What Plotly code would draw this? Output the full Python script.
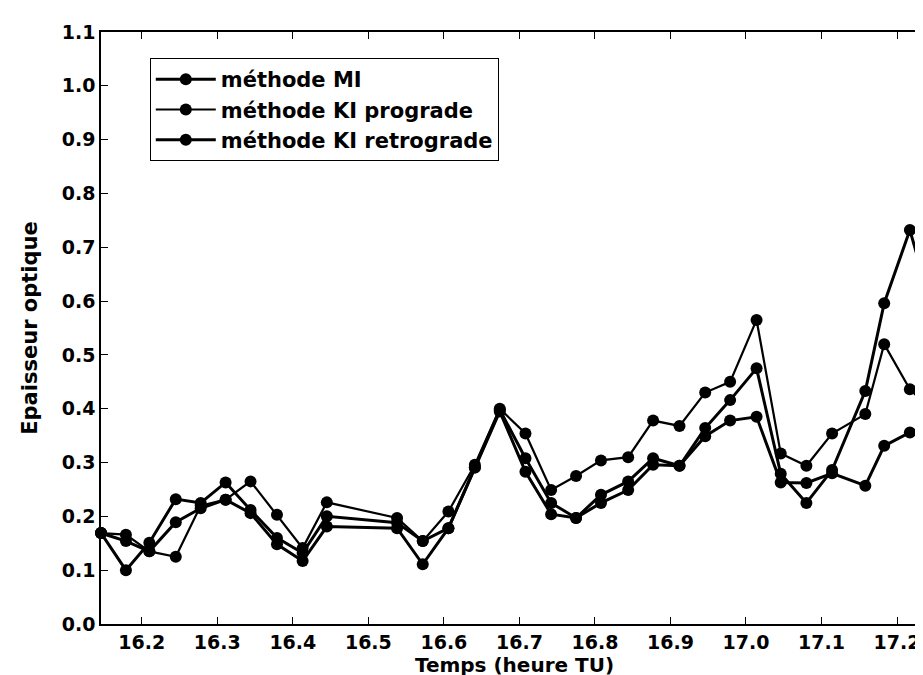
import plotly.graph_objects as go

# Time (hours UT)
temps = [16.146, 16.179, 16.210, 16.245, 16.278, 16.311, 16.344, 16.379, 16.413, 16.445,
         16.538, 16.572, 16.606, 16.641, 16.674, 16.708, 16.742, 16.775, 16.808, 16.844,
         16.877, 16.912, 16.946, 16.979, 17.014, 17.046, 17.080, 17.114, 17.158, 17.183,
         17.217, 17.250]

methode_mi = [0.169, 0.100, 0.151, 0.232, 0.225, 0.263, 0.212, 0.160, 0.132, 0.200,
              0.188, 0.154, 0.178, 0.291, 0.398, 0.308, 0.225, 0.197, 0.240, 0.265,
              0.308, 0.294, 0.364, 0.416, 0.475, 0.279, 0.225, 0.286, 0.433, 0.596,
              0.732, 0.570]

methode_ki_prograde = [0.169, 0.166, 0.135, 0.125, 0.220, 0.231, 0.265, 0.203, 0.141, 0.226,
                       0.197, 0.154, 0.209, 0.296, 0.400, 0.354, 0.249, 0.275, 0.304, 0.310,
                       0.378, 0.368, 0.430, 0.450, 0.565, 0.317, 0.294, 0.354, 0.390, 0.520,
                       0.436, 0.392]

methode_ki_retrograde = [0.169, 0.154, 0.135, 0.189, 0.215, 0.231, 0.206, 0.148, 0.117, 0.181,
                         0.178, 0.111, 0.178, 0.291, 0.395, 0.283, 0.204, 0.197, 0.225, 0.249,
                         0.296, 0.294, 0.349, 0.378, 0.385, 0.263, 0.262, 0.280, 0.257, 0.331,
                         0.356, 0.338]

series_names = ["méthode MI", "méthode KI prograde", "méthode KI retrograde"]
x_ticks = [16.2, 16.3, 16.4, 16.5, 16.6, 16.7, 16.8, 16.9, 17.0, 17.1, 17.2]
y_ticks = [0.0, 0.1, 0.2, 0.3, 0.4, 0.5, 0.6, 0.7, 0.8, 0.9, 1.0, 1.1]

FONT = "DejaVu Sans"

fig = go.Figure()
for name, vals, lw in zip(series_names,
                          [methode_mi, methode_ki_prograde, methode_ki_retrograde],
                          [3, 2.2, 3]):
    fig.add_trace(go.Scatter(
        x=temps, y=vals, name=name, mode="lines+markers",
        line=dict(color="black", width=lw),
        marker=dict(color="black", size=12, symbol="circle"),
        cliponaxis=False,
    ))

axis_common = dict(
    showline=True, linecolor="black", linewidth=1.5, mirror="ticks",
    ticks="inside", ticklen=7, tickwidth=1.2, tickcolor="black",
    showgrid=False, zeroline=False,
    tickfont=dict(family=FONT, size=19, color="black", weight="bold"),
)

fig.update_layout(
    width=923, height=675,
    margin=dict(l=93, r=1, t=24, b=59),
    paper_bgcolor="white", plot_bgcolor="white",
    showlegend=True,
    legend=dict(
        x=0.059, y=0.956, xanchor="left", yanchor="top",
        bgcolor="white", bordercolor="black", borderwidth=1,
        font=dict(family=FONT, size=21, color="black", weight="bold"),
        itemwidth=60,
    ),
    xaxis=dict(
        range=[16.146, 17.241], tickvals=x_ticks,
        ticktext=[f"{v:.1f}" for v in x_ticks],
        title=dict(text="Temps (heure TU)", standoff=0,
                   font=dict(family=FONT, size=20, color="black", weight="bold")),
        **axis_common,
    ),
    yaxis=dict(
        range=[0, 1.1], tickvals=y_ticks,
        ticktext=[f"{v:.1f}" for v in y_ticks],
        title=dict(text="Epaisseur optique", standoff=18,
                   font=dict(family=FONT, size=21, color="black", weight="bold")),
        **axis_common,
    ),
)

fig.write_html("out.html")
